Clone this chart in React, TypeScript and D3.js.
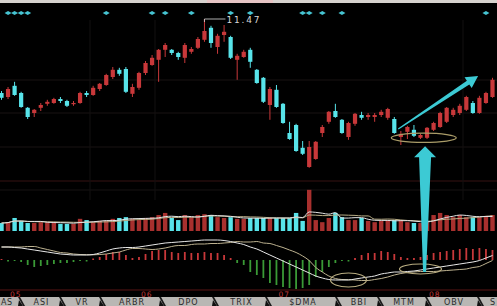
import React from "react";
import * as d3 from "d3";

const W = 497;
const H = 306;

// Daily bars: [open, high, low, close]
const ohlc: [number, number, number, number][] = [
  [9.62, 9.67, 9.45, 9.5], [9.52, 9.77, 9.47, 9.72], [9.8, 9.9, 9.55, 9.57], [9.62, 9.65, 9.25, 9.27],
  [9.25, 9.27, 8.97, 9.02], [9.12, 9.22, 9.02, 9.2], [9.25, 9.37, 9.17, 9.32], [9.35, 9.45, 9.3, 9.4],
  [9.37, 9.5, 9.35, 9.47], [9.47, 9.52, 9.37, 9.42], [9.42, 9.45, 9.27, 9.3], [9.35, 9.42, 9.3, 9.37],
  [9.37, 9.65, 9.35, 9.62], [9.62, 9.67, 9.52, 9.57], [9.57, 9.8, 9.55, 9.75], [9.72, 9.87, 9.67, 9.85],
  [9.82, 10.1, 9.8, 10.07], [10.02, 10.27, 9.97, 10.2], [10.2, 10.25, 10.05, 10.1], [10.22, 10.27, 9.62, 9.65],
  [9.6, 9.85, 9.52, 9.77], [9.75, 10.15, 9.7, 10.12], [10.12, 10.42, 10.07, 10.37], [10.32, 10.57, 10.3, 10.5],
  [10.45, 10.72, 9.9, 10.7], [10.7, 10.87, 10.52, 10.82], [10.7, 10.72, 10.57, 10.62], [10.62, 10.65, 10.45, 10.52],
  [10.5, 10.87, 10.37, 10.82], [10.65, 10.77, 10.6, 10.72], [10.75, 11.02, 10.72, 10.97], [10.95, 11.47, 10.9, 11.17],
  [11.25, 11.3, 10.75, 10.87], [10.77, 11.1, 10.6, 11.05], [11.07, 11.32, 10.9, 11.15], [11.02, 11.05, 10.47, 10.5],
  [10.45, 10.6, 9.95, 10.55], [10.52, 10.7, 10.5, 10.65], [10.7, 10.75, 10.25, 10.4], [10.2, 10.22, 9.85, 9.87],
  [10.0, 10.02, 9.37, 9.4], [9.32, 9.77, 8.95, 9.72], [9.7, 9.82, 9.25, 9.27], [9.35, 9.37, 8.85, 8.87],
  [8.62, 8.9, 8.45, 8.47], [8.82, 8.85, 8.15, 8.17], [8.25, 8.42, 8.07, 8.1], [7.77, 8.42, 7.75, 8.27],
  [7.97, 8.42, 7.95, 8.4], [8.62, 8.82, 8.52, 8.77], [8.9, 9.17, 8.85, 9.15], [9.17, 9.35, 9.0, 9.02],
  [8.95, 8.97, 8.6, 8.62], [8.52, 8.9, 8.45, 8.87], [8.85, 9.12, 8.8, 9.1], [9.07, 9.15, 8.95, 9.0],
  [9.02, 9.12, 8.95, 9.07], [9.02, 9.12, 8.9, 9.07], [9.07, 9.2, 9.02, 9.15], [9.0, 9.25, 8.95, 9.22],
  [8.97, 9.02, 8.6, 8.62], [8.52, 8.67, 8.32, 8.6], [8.65, 8.8, 8.47, 8.77], [8.7, 8.82, 8.52, 8.55],
  [8.5, 8.6, 8.47, 8.57], [8.5, 8.77, 8.47, 8.75], [8.7, 8.9, 8.67, 8.87], [8.77, 9.15, 8.75, 9.12],
  [8.9, 9.27, 8.87, 9.25], [9.07, 9.25, 9.02, 9.2], [9.12, 9.35, 9.07, 9.3], [9.2, 9.55, 9.17, 9.52],
  [9.37, 9.42, 9.1, 9.12], [9.12, 9.55, 9.1, 9.5], [9.37, 9.65, 9.35, 9.62], [9.52, 10.0, 9.5, 9.95],
];

// Daily volume (10k lots)
const volume = [
  19, 21, 31, 24, 19, 19, 21, 21, 21, 17, 17, 17, 29, 26, 21, 24, 24, 29, 31, 33,
  29, 26, 31, 33, 38, 43, 31, 26, 38, 33, 38, 40, 38, 33, 31, 33, 29, 29, 31, 31,
  31, 31, 31, 31, 31, 43, 24, 98, 26, 21, 31, 43, 33, 26, 26, 31, 24, 21, 24, 26,
  26, 26, 21, 19, 19, 24, 38, 43, 38, 33, 38, 33, 33, 33, 36, 38,
];

// MACD(12,26,9)
const dif = [
  0.13, 0.13, 0.125, 0.12, 0.11, 0.1, 0.09, 0.08, 0.07, 0.06, 0.055, 0.05, 0.05, 0.05, 0.055, 0.07,
  0.09, 0.11, 0.12, 0.125, 0.125, 0.13, 0.14, 0.15, 0.16, 0.17, 0.175, 0.18, 0.185, 0.19, 0.195, 0.2,
  0.2, 0.2, 0.195, 0.185, 0.17, 0.155, 0.13, 0.11, 0.08, 0.05, 0.02, -0.01, -0.04, -0.07, -0.1, -0.13,
  -0.16, -0.18, -0.195, -0.2, -0.2, -0.2, -0.19, -0.18, -0.17, -0.16, -0.14, -0.13, -0.12, -0.12,
  -0.115, -0.11, -0.1, -0.09, -0.08, -0.07, -0.06, -0.05, -0.04, -0.03, -0.02, -0.005, 0.02, 0.045,
];
const dea = [
  0.13, 0.13, 0.13, 0.13, 0.135, 0.135, 0.12, 0.105, 0.09, 0.075, 0.07, 0.06, 0.055, 0.053, 0.052, 0.055,
  0.06, 0.07, 0.08, 0.1, 0.115, 0.115, 0.11, 0.105, 0.11, 0.12, 0.135, 0.145, 0.145, 0.155, 0.16, 0.16,
  0.165, 0.165, 0.17, 0.175, 0.185, 0.18, 0.18, 0.185, 0.17, 0.165, 0.145, 0.125, 0.1, 0.075, 0.04, -0.005,
  -0.075, -0.12, -0.16, -0.185, -0.195, -0.197, -0.2, -0.205, -0.205, -0.195, -0.185, -0.17, -0.15, -0.135,
  -0.125, -0.12, -0.115, -0.115, -0.115, -0.11, -0.105, -0.1, -0.095, -0.09, -0.075, -0.065, -0.035, -0.005,
];
const macdBar = [
  0, -0.005, -0.01, -0.02, -0.05, -0.07, -0.06, -0.05, -0.04, -0.03, -0.03, -0.02, -0.01, -0.005, 0.005, 0.03,
  0.06, 0.08, 0.08, 0.05, 0.02, 0.03, 0.06, 0.09, 0.1, 0.1, 0.08, 0.07, 0.08, 0.07, 0.07, 0.08,
  0.07, 0.07, 0.05, 0.02, -0.03, -0.05, -0.12, -0.15, -0.18, -0.23, -0.25, -0.27, -0.28, -0.29, -0.28, -0.25,
  -0.17, -0.12, -0.07, -0.03, -0.01, -0.005, 0.02, 0.05, 0.07, 0.07, 0.09, 0.08, 0.06, 0.03,
  0.02, 0.02, 0.03, 0.05, 0.07, 0.08, 0.09, 0.1, 0.11, 0.12, 0.11, 0.12, 0.11, 0.1,
];

// Days flagged by the signal row
const signalDays = [1, 2, 3, 4, 16, 23, 25, 29, 35, 38, 46, 47, 49, 52, 74];

// Month boundaries
const monthLabels = ["05", "06", "07", "08"];
const monthStartDay = [1, 21, 42, 65];

// Indicator tabs (the strip is scrolled, so the outer two show only their tails)
const tabLabels = ["AS", "ASI", "VR", "ARBR", "DPO", "TRIX", "$DMA", "BBI", "MTM", "OBV", "S"];

const RED = "#c8383a";
const CYAN = "#58e4ea";
const VOL_RED = "#a8302e";
const GREEN = "#3a9a36";

function movingAvg(arr: number[], n: number) {
  return arr.map((_, i) => {
    const s = arr.slice(Math.max(0, i - n + 1), i + 1);
    return d3.mean(s) as number;
  });
}

export default function App() {
  const n = ohlc.length;
  const x = d3.scaleLinear().domain([0, n - 1]).range([1.5, 492.5]);
  const yP = d3.scaleLinear().domain([8, 11.5]).range([157.8, 17.8]);
  const yV = d3.scaleLinear().domain([0, 100]).range([231, 189]);
  const yM = d3.scaleLinear().domain([-0.3, 0.2]).range([290, 240]);

  const bodyW = 4.2;
  const volW = 4.4;

  const volMa5 = movingAvg(volume, 5);
  const volMa10 = movingAvg(volume, 10);
  const lineV = d3.line<number>().x((_, i) => x(i)).y((v) => yV(v)).curve(d3.curveMonotoneX);
  const lineM = d3.line<number>().x((_, i) => x(i)).y((v) => yM(v)).curve(d3.curveMonotoneX);

  const peakIdx = d3.maxIndex(ohlc, (d) => d[1]);
  const peakHigh = ohlc[peakIdx][1];

  // Tab strip layout
  const tabEdges = [-22, 21, 62, 102, 162, 215, 268, 338, 380, 428, 480, 530];
  const tabTop = 297;

  // Diagonal arrow geometry
  const a0: [number, number] = [x(60.6), yP(8.72)];
  const a1: [number, number] = [x(72.8), yP(10.045)];
  const dx = a1[0] - a0[0];
  const dy = a1[1] - a0[1];
  const len = Math.hypot(dx, dy);
  const ux = dx / len;
  const uy = dy / len;
  const px = -uy;
  const py = ux;
  const headL = 12;
  const headW = 6.5;
  const bx = a1[0] - ux * headL;
  const by = a1[1] - uy * headL;
  const diagArrow = [
    [a0[0] + px * 0.6, a0[1] + py * 0.6],
    [bx + px * 2.2, by + py * 2.2],
    [bx + px * headW, by + py * headW],
    a1,
    [bx - px * headW, by - py * headW],
    [bx - px * 2.2, by - py * 2.2],
    [a0[0] - px * 0.6, a0[1] - py * 0.6],
  ]
    .map((p) => p.join(","))
    .join(" ");

  // Vertical arrow geometry
  const vx = x(64.7);
  const vTip = yP(8.29);
  const vBase = vTip + 11;
  const vEnd = 272;
  const vertArrow = [
    [vx, vTip],
    [vx + 11, vBase],
    [vx + 6, vBase],
    [vx + 1, vEnd],
    [vx - 2, vEnd],
    [vx - 6, vBase],
    [vx - 11, vBase],
  ]
    .map((p) => p.join(","))
    .join(" ");

  return (
    <svg
      width={W}
      height={H}
      style={{ position: "fixed", left: 0, top: 0, display: "block", background: "#000" }}
    >
      <rect x={0} y={0} width={W} height={H} fill="#000" />
      {/* title strip */}
      <rect x={0} y={0} width={W} height={3} fill="#d6d2ce" />
      <rect x={207} y={0} width={66} height={3} fill="#e6c4c4" />

      {/* grid */}
      {[80, 113, 147].map((gy) => (
        <line key={gy} x1={0} x2={W} y1={gy} y2={gy} stroke="#181212" strokeWidth={1} />
      ))}
      <line x1={0} x2={W} y1={181} y2={181} stroke="#361212" strokeWidth={1} />
      <line x1={0} x2={W} y1={190} y2={190} stroke="#161212" strokeWidth={1} />
      {[90, 155, 463].map((gx) => (
        <line key={gx} x1={gx} x2={gx} y1={20} y2={200} stroke="#121010" strokeWidth={1} />
      ))}

      {/* signal row */}
      {signalDays.map((d) => (
        <polygon
          key={d}
          points={`${x(d) - 3.5},13 ${x(d)},11 ${x(d) + 3.5},13 ${x(d)},15`}
          fill="#46c4d2"
        />
      ))}

      {/* candles */}
      {ohlc.map(([o, h, l, c], i) => {
        const up = c >= o;
        const col = up ? RED : CYAN;
        const top = yP(Math.max(o, c));
        const bot = yP(Math.min(o, c));
        return (
          <g key={i}>
            <line x1={x(i)} x2={x(i)} y1={yP(h)} y2={yP(l)} stroke={col} strokeWidth={1} />
            <rect
              x={x(i) - bodyW / 2}
              y={top}
              width={bodyW}
              height={Math.max(1.2, bot - top)}
              fill={col}
            />
          </g>
        );
      })}

      {/* peak marker */}
      <polyline
        points={`${x(peakIdx)},${yP(peakHigh) + 3} ${x(peakIdx)},${yP(peakHigh)} ${x(peakIdx) + 21},${yP(peakHigh)}`}
        fill="none"
        stroke="#d8d8d8"
        strokeWidth={0.8}
      />
      <text
        x={x(peakIdx) + 22}
        y={yP(peakHigh) + 3.5}
        fill="#d8d8d8"
        fontSize={9}
        fontFamily="DejaVu Sans"
        letterSpacing={1.8}
      >
        {peakHigh.toFixed(2)}
      </text>

      {/* volume */}
      {volume.map((v, i) => {
        const [o, , , c] = ohlc[i];
        return (
          <rect
            key={i}
            x={x(i) - volW / 2}
            y={yV(v)}
            width={volW}
            height={yV(0) - yV(v)}
            fill={c >= o ? VOL_RED : CYAN}
          />
        );
      })}
      <path d={lineV(volMa10) || ""} fill="none" stroke="#b8ad86" strokeWidth={1} />
      <path d={lineV(volMa5) || ""} fill="none" stroke="#e4e4e4" strokeWidth={1} />

      {/* MACD */}
      {macdBar.map((v, i) => (
        <line
          key={i}
          x1={x(i)}
          x2={x(i)}
          y1={yM(0)}
          y2={yM(v) + (Math.abs(yM(v) - yM(0)) < 1 ? (v >= 0 ? -1 : 1) : 0)}
          stroke={v >= 0 ? RED : GREEN}
          strokeWidth={1.8}
        />
      ))}
      <path d={lineM(dea) || ""} fill="none" stroke="#bdb290" strokeWidth={1} />
      <path d={lineM(dif) || ""} fill="none" stroke="#e8e8e8" strokeWidth={1} />

      {/* annotations */}
      <ellipse cx={x(64.5)} cy={yP(8.5)} rx={32.5} ry={4.6} fill="none" stroke="#aa9c68" strokeWidth={1.2} />
      <ellipse cx={x(53)} cy={yM(-0.2)} rx={18} ry={7} fill="none" stroke="#b8ac80" strokeWidth={1.2} />
      <ellipse cx={x(64)} cy={yM(-0.09)} rx={21} ry={5} fill="none" stroke="#b8ac80" strokeWidth={1.2} />
      <polygon points={diagArrow} fill="#3ccad4" />
      <polygon points={vertArrow} fill="#3ccad4" />

      {/* month axis */}
      <line x1={0} x2={W} y1={290} y2={290} stroke="#5a1414" strokeWidth={1} />
      {monthLabels.map((m, k) => (
        <text
          key={m}
          x={x(monthStartDay[k]) + 2}
          y={297}
          fill="#c43a3a"
          fontSize={7.5}
          fontFamily="DejaVu Sans"
          letterSpacing={1}
        >
          {m}
        </text>
      ))}

      {/* indicator tabs */}
      <rect x={0} y={tabTop} width={W} height={H - tabTop} fill="#b9b7b4" />
      {tabLabels.map((t, k) => {
        const l = tabEdges[k];
        const r = tabEdges[k + 1];
        const cx = (l + r) / 2;
        const first = k === 0;
        const last = k === tabLabels.length - 1;
        return (
          <text
            key={t}
            x={first ? 1 : last ? 490 : cx}
            y={305}
            textAnchor={first || last ? "start" : "middle"}
            fill="#2a2a2a"
            fontSize={8}
            fontFamily="DejaVu Sans"
            letterSpacing={first ? 0.5 : 1}
          >
            {t}
          </text>
        );
      })}
      {tabEdges.slice(1, -1).map((sx) => (
        <g key={sx}>
          <polygon points={`${sx - 3},${tabTop} ${sx - 1},${tabTop} ${sx + 4},${H} ${sx + 2},${H}`} fill="#1a1a1a" />
          <polygon points={`${sx - 2},${tabTop + 3} ${sx + 2},${H} ${sx - 3},${H}`} fill="#111" />
        </g>
      ))}
    </svg>
  );
}
